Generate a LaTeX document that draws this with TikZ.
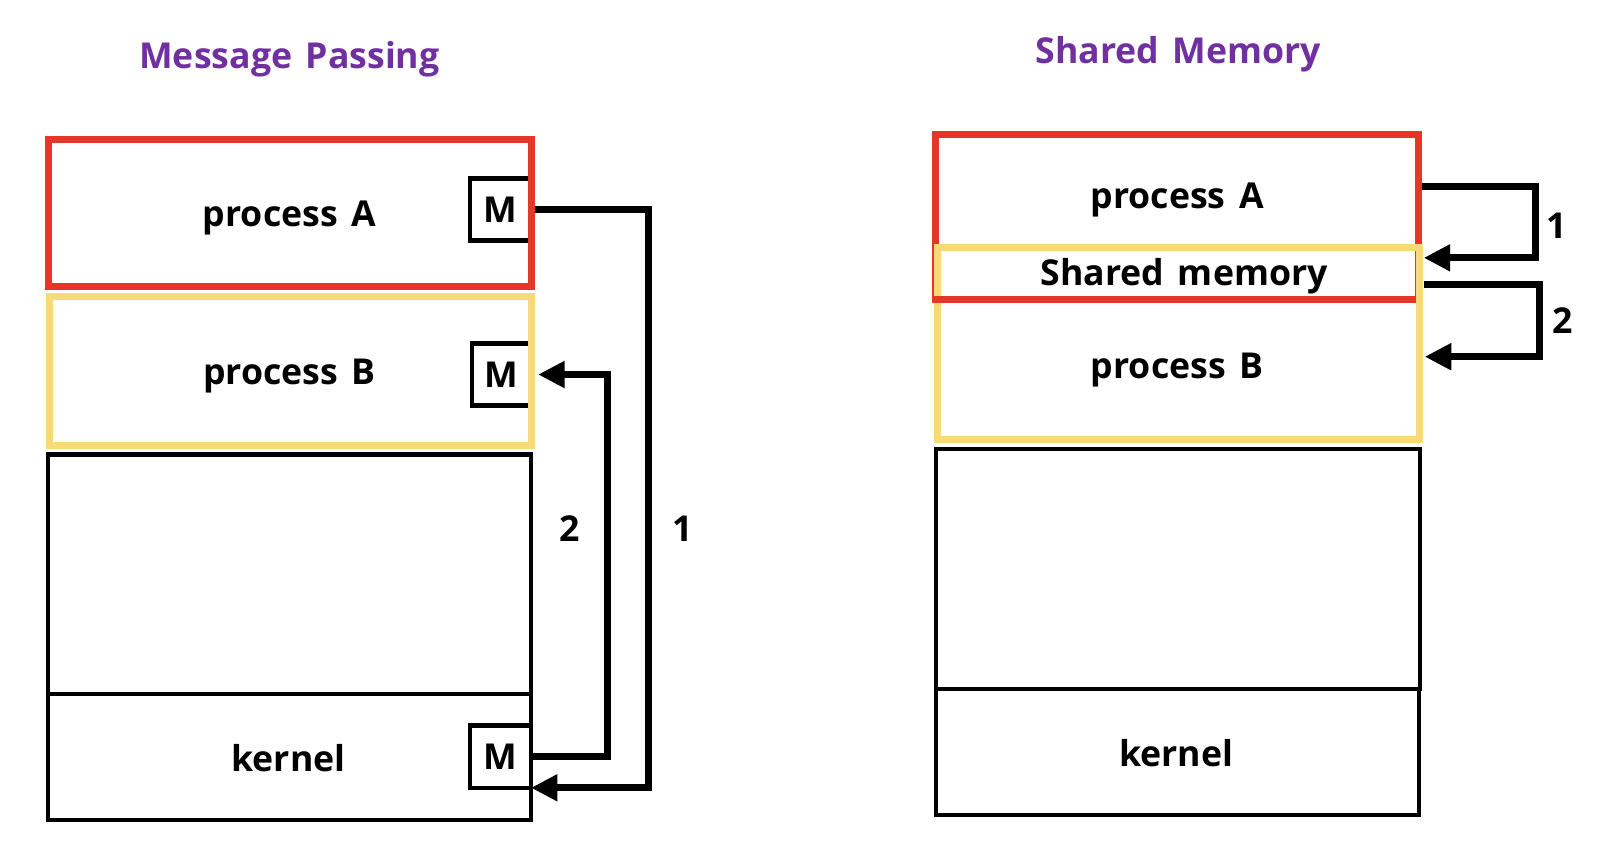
\documentclass[tikz,border=0pt]{standalone}
\usepackage{fontspec}
\setmainfont{Open Sans}[WordSpace=1.45]
\usetikzlibrary{arrows.meta}
\definecolor{redc}{HTML}{E8352A}
\definecolor{yel}{HTML}{F8D978}
\definecolor{purp}{HTML}{7030A0}
\begin{document}
\begin{tikzpicture}[x=0.5pt,y=-0.5pt,
  box/.style={draw,inner sep=0pt,outer sep=0pt,line width=2pt},
  redbox/.style={draw=redc,line width=3.5pt,inner sep=0pt,outer sep=0pt},
  yelbox/.style={draw=yel,line width=3.5pt,inner sep=0pt,outer sep=0pt},
  mbox/.style={draw,line width=2.2pt,inner sep=0pt,outer sep=0pt,minimum width=30pt,minimum height=30.5pt,font=\bfseries\fontsize{17.5}{17.5}\selectfont},
  lbl/.style={anchor=base,inner sep=0pt,font=\bfseries\fontsize{17.5}{21}\selectfont},
  ttl/.style={lbl,text=purp},
  arr/.style={line width=3.4pt,line join=miter,-{Triangle[length=13pt,width=12.5pt]}}
]
\useasboundingbox (0,0) rectangle (1568,850);
% titles
\node[ttl] (t1) at (284,67.7) {Message Passing};
\node[ttl] (t2) at (1156,62.1) {Shared Memory};
% ---- left panel ----
\node[mbox] (ma) at (491,205.5) {M};
\node[mbox,minimum width=29pt] (mb) at (492,367.5) {M};
\node[mbox] (mk) at (491,742.5) {M};
\draw[arr,shorten <=2pt] (ma.east) -- ++(115,0) |- (mk.south east);
\draw[arr,shorten >=3.5pt] (mk.east) -- ++(75,0) |- (mb.east);
\node[box,minimum width=237pt,minimum height=117.5pt] (ul) at (284,563.5) {};
\node[box,minimum width=237pt,minimum height=62pt] (kl) at (284,743) {};
\node[redbox,minimum width=237pt,minimum height=72pt] (pa) at (284.5,209) {};
\node[yelbox,minimum width=236.5pt,minimum height=73pt] (pb) at (285,364) {};
\node[lbl] (ta) at (284,222.5) {process A};
\node[lbl] (tb) at (284,376.8) {process B};
\node[lbl] (tk) at (283,756.6) {kernel};
\node[lbl] (n2) at (559,531.5) {2};
\node[lbl] (n1) at (670,531.5) {1};
% ---- right panel ----
\node[redbox,minimum width=237pt,minimum height=81pt] (pa2) at (1155,213) {};
\node[yelbox,minimum width=236.5pt,minimum height=94pt] (pb2) at (1156.5,337) {};
\draw[redc,line width=3.5pt] ([xshift=-1.75pt]pa2.south west) -- ([xshift=-1.75pt]pa2.south east);
\node[box,minimum width=237.5pt,minimum height=117.5pt] (ur) at (1155.5,558.5) {};
\node[box,minimum width=237pt,minimum height=62pt] (kr) at (1155,738) {};
\draw[arr] ([xshift=1.75pt,yshift=15pt]pa2.east) -- ++(111,0) |- ([xshift=2pt,yshift=-5pt]pb2.north east);
\draw[arr] ([xshift=2pt,yshift=29pt]pb2.east) -- ++(114,0) |- ([xshift=2.5pt,yshift=-6.5pt]pb2.east);
\node[lbl] (ta2) at (1155,205) {process A};
\node[lbl] (ts2) at (1162,280.6) {Shared memory};
\node[lbl] (tb2) at (1155,371.2) {process B};
\node[lbl] (tk2) at (1154,751.7) {kernel};
\node[lbl] (r1) at (1527,233.9) {1};
\node[lbl] (r2) at (1533,327.7) {2};
\end{tikzpicture}
\end{document}
